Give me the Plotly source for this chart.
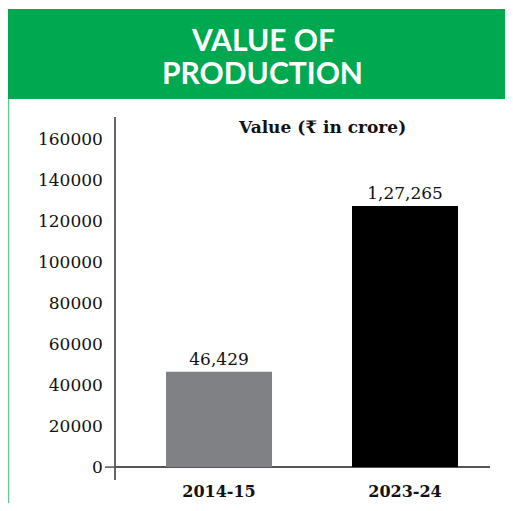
import plotly.graph_objects as go

# data
years = ["2014-15", "2023-24"]
values = [46429, 127265]
bar_colors = ["#808184", "#000000"]
y_ticks = [0, 20000, 40000, 60000, 80000, 100000, 120000, 140000, 160000]
title_lines = ["VALUE OF", "PRODUCTION"]


def indian_format(n):
    s = str(int(n))
    if len(s) <= 3:
        return s
    head, tail = s[:-3], s[-3:]
    parts = []
    while len(head) > 2:
        parts.insert(0, head[-2:])
        head = head[:-2]
    if head:
        parts.insert(0, head)
    return ",".join(parts) + "," + tail


# page body has an 8px margin, so keep the figure small enough not to scroll
W, H = 497, 495
L, R, T, B = 108, 15, 109, 23
pw, ph = W - L - R, H - T - B


def px(x):
    return (x - L) / pw


def py(y):
    return (H - B - y) / ph


SERIF = "DejaVu Serif"
GREEN = "#00a84f"

fig = go.Figure()
fig.add_trace(go.Bar(
    x=years, y=values,
    marker=dict(color=bar_colors, line=dict(width=0)),
    width=0.57,
    text=[indian_format(v) for v in values],
    textposition="outside",
    textfont=dict(family=SERIF, size=17, color="#111"),
    cliponaxis=False,
))

annotations = [
    dict(text=line, xref="paper", yref="paper",
         x=px(254.5), y=py(31 + 33 * i), yanchor="middle", showarrow=False,
         font=dict(family="Lato", size=30, color="white", weight="bold"))
    for i, line in enumerate(title_lines)
]
annotations.append(
    dict(text="<b>Value (₹ in crore)</b>", xref="paper", yref="paper",
         x=px(314), y=py(119), yanchor="middle", showarrow=False,
         font=dict(family=SERIF, size=17, color="#111"))
)

fig.update_layout(
    width=W, height=H,
    margin=dict(l=L, r=R, t=T, b=B),
    paper_bgcolor="white", plot_bgcolor="white",
    showlegend=False,
    xaxis=dict(
        type="category", range=[-0.554, 1.457],
        tickvals=years, ticktext=[f"<b>{y}</b>" for y in years],
        tickfont=dict(family=SERIF, size=16, color="#111"),
        showgrid=False, showline=False, zeroline=False, ticks="",
        automargin=False,
    ),
    yaxis=dict(
        range=[-6300, 170700], tickvals=y_ticks, tickformat="d",
        tickfont=dict(family=SERIF, size=17, color="#111"),
        showgrid=False, zeroline=True, zerolinecolor="#555", zerolinewidth=1.5,
        showline=True, linecolor="#666", linewidth=1.5, ticks="",
        ticklabelstandoff=8, automargin=False,
    ),
    shapes=[
        dict(type="rect", xref="paper", yref="paper",
             x0=px(0), x1=px(W), y0=py(91), y1=py(1),
             fillcolor=GREEN, line=dict(width=0), layer="below"),
        dict(type="line", xref="paper", yref="paper",
             x0=px(0.5), x1=px(0.5), y0=py(91), y1=py(H),
             line=dict(color="#5fcb8f", width=1.5)),
        dict(type="line", xref="paper", yref="y",
             x0=px(97), x1=0, y0=0, y1=0,
             line=dict(color="#555", width=1.5)),
    ],
    annotations=annotations,
)

fig.write_html("out.html")
